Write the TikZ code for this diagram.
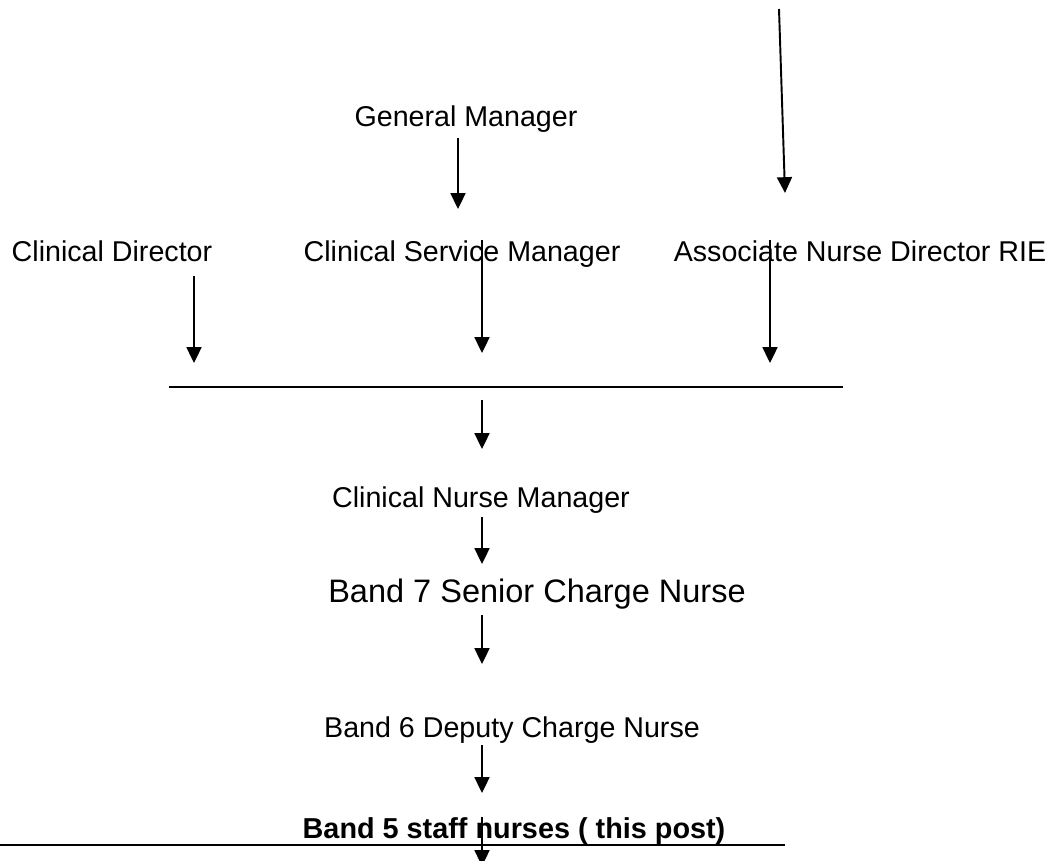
\documentclass[tikz,border=0pt]{standalone}
\usepackage{fontspec}
\setmainfont{Liberation Sans}
\usetikzlibrary{arrows.meta}

\tikzset{
	post/.style={anchor=base, inner sep=0pt, font=\fontsize{16.3}{19}\selectfont},
	bigpost/.style={post, font=\fontsize{18.5}{22}\selectfont},
	thispost/.style={post, font=\fontsize{16.4}{19}\selectfont\bfseries},
	down/.style={line width=1.1pt, -{Triangle[length=9pt, width=8.5pt]}},
	rule/.style={line width=1.1pt}
}

\begin{document}
\begin{tikzpicture}[x=0.02cm, y=-0.02cm]
		\useasboundingbox (0,0) rectangle (1061,861);
		
		% the posts
		\node[post] (gm) at (466,127) {General Manager};
		\node[post] (cd) at (112,262) {Clinical Director};
		\node[post] (csm) at (462,262) {Clinical Service Manager};
		\node[post] (and) at (860,262) {Associate Nurse Director RIE};
		\node[post] (cnm) at (481,507) {Clinical Nurse Manager};
		\node[bigpost] (b7) at (537,602) {Band 7 Senior Charge Nurse};
		\node[post] (b6) at (512,737) {Band 6 Deputy Charge Nurse};
		\node[thispost] (b5) at (514,838) {Band 5 staff nurses ( this post)};
		
		% arrow ends
		\coordinate (top1) at (779,9);    \coordinate (top2) at (785,193);
		\coordinate (gm1) at (458,138);   \coordinate (gm2) at (458,209);
		\coordinate (cd1) at (194,276);   \coordinate (cd2) at (194,363);
		\coordinate (csm1) at (482,240);  \coordinate (csm2) at (482,353);
		\coordinate (and1) at (770,240);  \coordinate (and2) at (770,363);
		\coordinate (bar1) at (482,400);  \coordinate (bar2) at (482,449);
		\coordinate (cnm1) at (482,517);  \coordinate (cnm2) at (482,564);
		\coordinate (b71) at (482,615);   \coordinate (b72) at (482,664);
		\coordinate (b61) at (482,745);   \coordinate (b62) at (482,793);
		\coordinate (b51) at (482,817);   \coordinate (b52) at (482,866);
		
		% the two lines
		\coordinate (barL) at (169,387);  \coordinate (barR) at (843,387);
		\coordinate (lowL) at (0,845);    \coordinate (lowR) at (785,845);
		\draw[rule] (barL) -- (barR);
		\draw[rule] (lowL) -- (lowR);
		
		% arrows
		\draw[down] (top1) -- (top2);
		\draw[down] (gm1) -- (gm2);
		\draw[down] (cd1) -- (cd2);
		\draw[down] (csm1) -- (csm2);
		\draw[down] (and1) -- (and2);
		\draw[down] (bar1) -- (bar2);
		\draw[down] (cnm1) -- (cnm2);
		\draw[down] (b71) -- (b72);
		\draw[down] (b61) -- (b62);
		\draw[down] (b51) -- (b52);
	\end{tikzpicture}
\end{document}
